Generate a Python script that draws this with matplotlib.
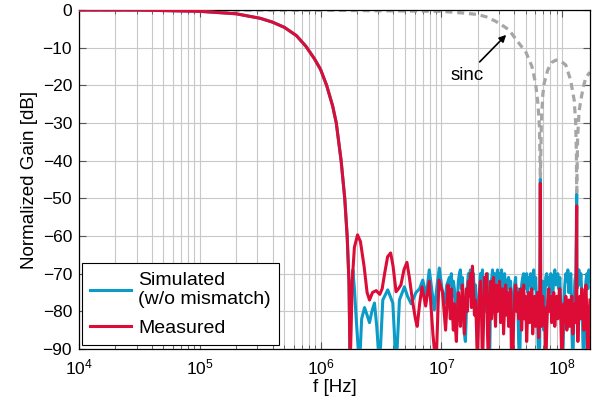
"""
Filter response: simulated vs measured, with sinc envelope
"""

import numpy as np
import matplotlib
matplotlib.use("Agg")
import matplotlib.pyplot as plt

plt.rcParams["font.family"] = ["Liberation Sans", "DejaVu Sans"]
plt.rcParams["mathtext.fontset"] = "custom"
plt.rcParams["mathtext.rm"] = "Liberation Sans"
plt.rcParams["mathtext.it"] = "Liberation Sans:italic"

BLUE = "#0a9bc8"
RED = "#dc0c37"
GRAY = "#a6a6a6"

# shared low-pass roll-off (log10 f [Hz], dB)
roll_logf = [4.0, 4.5, 5.0, 5.3, 5.5, 5.6, 5.7, 5.8, 5.88, 5.95, 6.0, 6.05,
             6.1, 6.13, 6.17, 6.2, 6.22, 6.235, 6.245]
roll_db = [0.0, -0.02, -0.35, -1.0, -2.2, -3.2, -4.6, -6.8, -9.7, -13.0, -15.8,
           -20.0, -25.5, -30.0, -40.0, -50.0, -60.0, -72.0, -95.0]

# side lobes just above the stop-band edge
sim_lobe_logf = [6.25, 6.267, 6.28, 6.295, 6.322, 6.34, 6.364, 6.385, 6.405,
                 6.425, 6.446, 6.465, 6.488, 6.515, 6.556, 6.598, 6.626, 6.653,
                 6.694, 6.72, 6.75, 6.79, 6.82, 6.846, 6.875, 6.90, 6.92, 6.942,
                 6.965, 6.983, 7.005, 7.025, 7.045]
sim_lobe_db = [-80, -69, -74, -82, -95, -82, -79, -81, -83, -80, -77.8, -84,
               -95, -77, -74.3, -77.8, -95, -77, -73.5, -76, -78, -75, -74,
               -71.7, -76, -69, -74, -79.6, -73, -68.5, -74, -78, -73]

meas_lobe_logf = [6.262, 6.28, 6.306, 6.33, 6.36, 6.385, 6.405, 6.43, 6.46,
                  6.49, 6.51, 6.53, 6.555, 6.58, 6.60, 6.625, 6.645, 6.665,
                  6.69, 6.715, 6.735, 6.76, 6.785, 6.80, 6.82, 6.84, 6.87,
                  6.90, 6.93, 6.956, 6.98, 7.01, 7.035, 7.055]
meas_lobe_db = [-72, -63, -59.7, -61.5, -68, -75, -77, -75, -74.5, -75.5, -74,
                -70, -65.5, -64.5, -68, -74.8, -74, -73, -69, -67, -71, -77,
                -82, -84, -78, -73.5, -78.6, -72, -86, -95, -71.7, -75, -85, -73]

# noise floor, one value per pixel column from 1.16e7 Hz to 1.7e8 Hz
noise_logf = np.linspace(7.066, 8.23, 141)
sim_noise_db = [
    -71, -73, -70, -76, -72, -74, -79, -84, -77, -72,
    -70, -69, -74, -71, -78, -86, -88, -80, -73, -70,
    -71, -69, -75, -72, -70, -77, -73, -79, -89, -82,
    -74, -70, -72, -69, -76, -71, -80, -74, -70, -84,
    -95, -78, -72, -69, -73, -70, -75, -71, -69, -72,
    -70, -74, -69, -77, -72, -70, -74, -78, -72, -71,
    -74, -72, -82, -86, -76, -73, -71, -79, -74, -88,
    -95, -80, -73, -71, -70, -74, -72, -70, -75, -71,
    -73, -70, -76, -72, -69, -74, -71, -79, -84, -95,
    -89, -80, -74, -72, -85, -78, -71, -70, -73, -71,
    -75, -70, -72, -76, -71, -69, -73, -72, -70, -74,
    -71, -78, -88, -95, -79, -73, -70, -72, -69, -75,
    -71, -70, -84, -95, -80, -72, -70, -74, -71, -69,
    -73, -70, -76, -88, -95, -80, -72, -70, -74, -69, -72,
]
meas_noise_db = [
    -76, -82, -74, -80, -85, -78, -84, -88, -80, -75,
    -79, -84, -77, -73, -81, -86, -78, -74, -80, -72,
    -76, -70, -79, -68, -74, -81, -77, -84, -95, -82,
    -75, -72, -80, -95, -84, -71, -77, -70, -86, -95,
    -78, -72, -82, -75, -71, -79, -84, -73, -80, -76,
    -72, -83, -77, -74, -86, -79, -73, -81, -75, -84,
    -78, -74, -95, -95, -83, -76, -73, -80, -75, -82,
    -77, -74, -85, -79, -73, -82, -76, -88, -80, -75,
    -83, -77, -74, -86, -79, -76, -84, -80, -75, -87,
    -81, -78, -84, -76, -82, -79, -95, -85, -77, -74,
    -80, -76, -83, -78, -75, -84, -79, -76, -82, -77,
    -74, -81, -95, -86, -78, -83, -76, -85, -80, -77,
    -84, -79, -76, -86, -80, -78, -83, -77, -88, -81,
    -76, -82, -74, -79, -85, -78, -73, -81, -95, -84, -77,
]

# narrow tones at the sinc nulls
spike_logf = [7.8195, 8.1205]
sim_spike_db = [-45, -49]
meas_spike_db = [-46, -52]

# sinc envelope (log10 f, dB)
sinc_logf = [4.0, 6.0, 7.0, 7.2, 7.3, 7.37, 7.45, 7.52, 7.56, 7.63, 7.70, 7.75,
             7.78, 7.80, 7.812, 7.8195, 7.828, 7.84, 7.851, 7.88, 7.91, 7.948,
             7.99, 8.03, 8.07, 8.10, 8.112, 8.118, 8.1205, 8.128, 8.14, 8.154,
             8.175, 8.195, 8.23]
sinc_db = [0, -0.05, -0.35, -0.85, -1.2, -1.8, -3.0, -4.4, -5.3, -8.3, -11.2,
           -15.0, -19.5, -25, -31, -45, -30, -22.5, -19.5, -16, -14, -13.3,
           -13.6, -14.6, -18.6, -24, -30, -38, -49.6, -34, -27, -24, -20.5,
           -18, -16.5]


def build(parts_f, parts_g):
    f = np.concatenate([np.asarray(p, float) for p in parts_f])
    g = np.concatenate([np.asarray(p, float) for p in parts_g])
    order = np.argsort(f, kind="stable")
    return 10 ** f[order], g[order]


sim_f, sim_g = build([roll_logf, sim_lobe_logf, noise_logf, spike_logf],
                     [roll_db, sim_lobe_db, sim_noise_db, sim_spike_db])
meas_f, meas_g = build([roll_logf, meas_lobe_logf, noise_logf, spike_logf],
                       [roll_db, meas_lobe_db, meas_noise_db, meas_spike_db])

fig = plt.figure(figsize=(6, 4.05), dpi=100)
ax = fig.add_axes([0.1317, 0.1383, 0.8516, 0.837])

ax.plot(10 ** np.asarray(sinc_logf), sinc_db, color=GRAY, lw=2.3,
        linestyle=(0, (2.2, 1.5)), zorder=2)
ax.plot(sim_f, sim_g, color=BLUE, lw=2.2, label="Simulated\n(w/o mismatch)",
        zorder=3)
ax.plot(meas_f, meas_g, color=RED, lw=2.2, label="Measured", zorder=4)

ax.annotate("sinc", xy=(3.44e7, -6.6), xytext=(1.62e7, -17.3),
            ha="center", va="center", fontsize=13.5,
            arrowprops=dict(arrowstyle="-|>", color="k", lw=1.2,
                            mutation_scale=10, shrinkA=2, shrinkB=0))

ax.set_xscale("log")
ax.set_xlim(1e4, 1.7e8)
ax.set_ylim(-90, 0)
ax.set_yticks(np.arange(-90, 1, 10))
ax.set_xlabel("f [Hz]", fontsize=13.5, labelpad=1)
ax.set_ylabel("Normalized Gain [dB]", fontsize=13.5, labelpad=3)

ax.grid(True, which="major", color="#c8c8c8", lw=0.8)
ax.grid(True, which="minor", axis="x", color="#c8c8c8", lw=0.8)
ax.set_axisbelow(True)
ax.tick_params(which="both", direction="in", top=True, right=True,
               labelsize=12.5, color="#555555")
ax.tick_params(which="major", length=5)
ax.tick_params(which="minor", length=3)
ax.tick_params(axis="x", which="both", pad=6)
ax.tick_params(axis="y", which="both", pad=5)
for s in ax.spines.values():
    s.set_linewidth(0.9)

leg = ax.legend(loc="lower left", bbox_to_anchor=(0.005, 0.011),
                fontsize=14, fancybox=False, framealpha=1, edgecolor="black",
                handlelength=2.1, borderaxespad=0, labelspacing=0.55,
                handletextpad=0.35, borderpad=0.45)
leg.get_frame().set_linewidth(0.8)

fig.savefig("out.png", dpi=100)
plt.close(fig)
